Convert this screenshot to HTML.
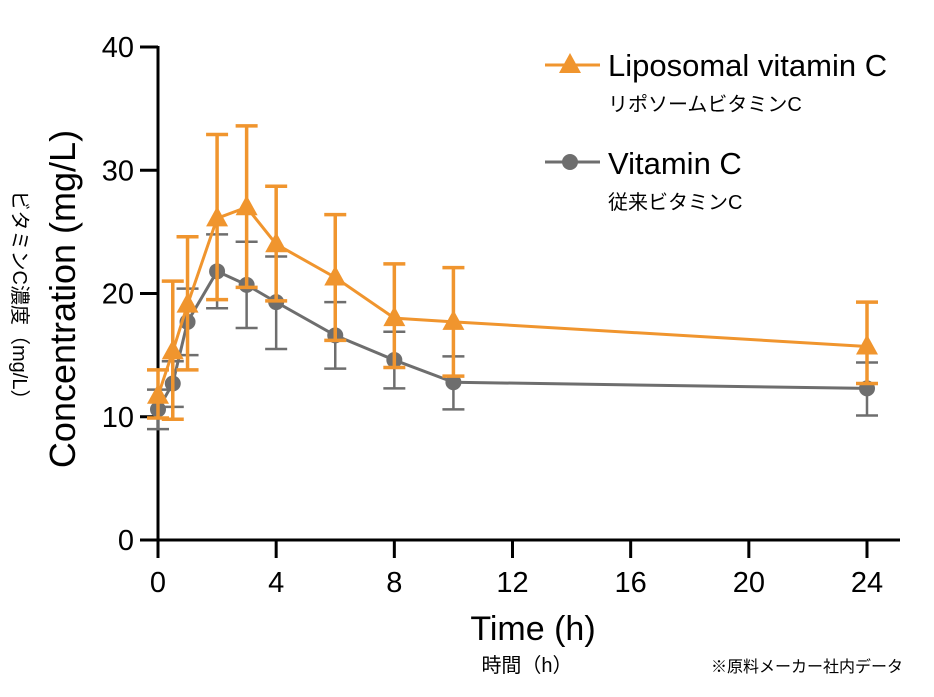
<!DOCTYPE html>
<html><head><meta charset="utf-8"><style>
body{margin:0;background:#fff;}
svg{display:block;font-family:"Liberation Sans","Noto Sans CJK JP",sans-serif;}
</style></head><body>
<svg id="chart" width="934" height="697" viewBox="0 0 934 697" xmlns="http://www.w3.org/2000/svg">
</svg>
<script>
const times = [0, 0.5, 1, 2, 3, 4, 6, 8, 10, 24];
const lipoMean = [11.7, 15.3, 19.1, 26.1, 27.0, 24.0, 21.3, 18.0, 17.7, 15.7];
const lipoLow  = [9.9, 9.8, 13.8, 19.5, 20.5, 19.4, 16.2, 14.0, 13.3, 12.7];
const lipoHigh = [13.8, 21.0, 24.6, 32.9, 33.6, 28.7, 26.4, 22.4, 22.1, 19.3];
const vitMean = [10.6, 12.7, 17.7, 21.8, 20.7, 19.3, 16.6, 14.6, 12.8, 12.3];
const vitLow  = [9.0, 10.8, 15.0, 18.8, 17.2, 15.5, 13.9, 12.3, 10.6, 10.1];
const vitHigh = [12.2, 14.5, 20.4, 24.8, 24.2, 23.0, 19.3, 16.9, 14.9, 14.4];
const xTicks = [0, 4, 8, 12, 16, 20, 24];
const yTicks = [0, 10, 20, 30, 40];

const NS = "http://www.w3.org/2000/svg";
const svg = document.getElementById("chart");
const X0 = 158, X1 = 867, Y0 = 540, Y1 = 47;
const xs = v => X0 + v / 24 * (X1 - X0);
const ys = v => Y0 - v / 40 * (Y0 - Y1);
const OR = "#F0952E", GR = "#6E6E6E";
function el(tag, attrs, text) {
  const e = document.createElementNS(NS, tag);
  for (const k in attrs) e.setAttribute(k, attrs[k]);
  if (text !== undefined) e.textContent = text;
  svg.appendChild(e);
  return e;
}
let e;
e = el("line", {x1: X0, y1: Y1 - 1, x2: X0, y2: Y0 + 1.5, stroke: "#000", "stroke-width": 3});


e = el("line", {x1: X0 - 1.5, y1: Y0, x2: 900, y2: Y0, stroke: "#000", "stroke-width": 3});


yTicks.forEach(t => {
  e = el("line", {x1: 140, y1: ys(t), x2: X0, y2: ys(t), stroke: "#000", "stroke-width": 3});
  
  
  e = el("text", {x: 134, y: ys(t) + 10, "text-anchor": "end", "font-size": 29}, t);
  
  
});
xTicks.forEach(t => {
  e = el("line", {x1: xs(t), y1: Y0, x2: xs(t), y2: 558, stroke: "#000", "stroke-width": 3});
  
  
  e = el("text", {x: xs(t), y: 592, "text-anchor": "middle", "font-size": 29}, t);
  
  
});
function series(mean, low, high, color, name, marker, ew) {
  times.forEach((t, i) => {
    const x = xs(t);
    e = el("path", {d: `M${x},${ys(low[i])}V${ys(high[i])}M${x-11},${ys(low[i])}H${x+11}M${x-11},${ys(high[i])}H${x+11}`, stroke: color, "stroke-width": ew, fill: "none"});
    
    
  });
  e = el("polyline", {points: times.map((t, i) => xs(t) + "," + ys(mean[i])).join(" "), stroke: color, "stroke-width": 3, fill: "none"});
  
  
  times.forEach((t, i) => {
    const x = xs(t), y = ys(mean[i]);
    if (marker === "tri") e = el("path", {d: `M${x},${y-12}L${x+11},${y+8}L${x-11},${y+8}Z`, fill: color});
    else e = el("circle", {cx: x, cy: y, r: 8, fill: color});
    
    
  });
}
series(vitMean, vitLow, vitHigh, GR, "vitamin-c", "dot", 2.5);
series(lipoMean, lipoLow, lipoHigh, OR, "liposomal", "tri", 3.5);
e = el("text", {x: 533, y: 640, "text-anchor": "middle", "font-size": 34}, "Time (h)");


e = el("text", {x: 527, y: 672, "text-anchor": "middle", "font-size": 20}, "時間（h）");


e = el("text", {x: 0, y: 0, "text-anchor": "middle", "font-size": 36, transform: "translate(75,299) rotate(-90)"}, "Concentration (mg/L)");


e = el("text", {x: 0, y: 0, "text-anchor": "middle", "font-size": 20, transform: "translate(13,300) rotate(90)"}, "ビタミンC濃度（mg/L）");


e = el("text", {x: 903, y: 672, "text-anchor": "end", "font-size": 16}, "※原料メーカー社内データ");


e = el("line", {x1: 545, y1: 65, x2: 600, y2: 65, stroke: OR, "stroke-width": 3});


e = el("path", {d: "M570,53L581,73L559,73Z", fill: OR});


e = el("text", {x: 608, y: 76, "font-size": 31}, "Liposomal vitamin C");


e = el("text", {x: 608, y: 111, "font-size": 20}, "リポソームビタミンC");


e = el("line", {x1: 545, y1: 162, x2: 600, y2: 162, stroke: GR, "stroke-width": 3});


e = el("circle", {cx: 570, cy: 162, r: 8, fill: GR});


e = el("text", {x: 608, y: 174, "font-size": 31}, "Vitamin C");


e = el("text", {x: 608, y: 209, "font-size": 20}, "従来ビタミンC");


</script>
</body></html>
